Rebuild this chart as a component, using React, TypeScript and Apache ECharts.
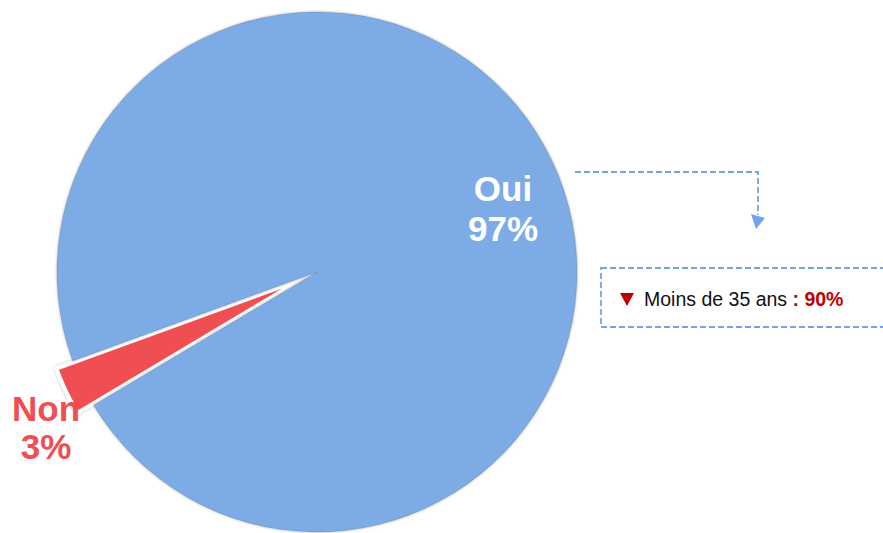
import React, { useEffect, useRef } from "react";
import * as echarts from "echarts";

const categories = ["Non", "Oui"];
const values = [3, 97];
const sliceColors = ["#EF4F53", "#7BABE5"];
const labelColors = ["#EF4F53", "#FFFFFF"];
const noteLabel = "Moins de 35 ans";
const noteValue = " : 90%";

export default function App() {
  const ref = useRef<HTMLDivElement>(null);
  useEffect(() => {
    if (!ref.current) return;
    const chart = echarts.init(ref.current, null, { renderer: "svg" });
    const labelPos = [
      { x: 46, y: 427, lh: 38 },
      { x: 503, y: 208, lh: 40 },
    ];
    const total = values.reduce((a, b) => a + b, 0);
    const dashColor = "#6FA5EC";
    const sliceLabels = categories.map((c, i) => ({
      type: "text",
      x: labelPos[i].x,
      y: labelPos[i].y,
      z: 10,
      style: {
        text: c + "\n" + Math.round((values[i] / total) * 100) + "%",
        fill: labelColors[i],
        fontFamily: "Liberation Sans",
        fontWeight: "bold",
        fontSize: 35,
        lineHeight: labelPos[i].lh,
        align: "center",
        verticalAlign: "middle",
      },
    }));
    chart.setOption({
      animation: false,
      backgroundColor: "#ffffff",
      series: [
        {
          type: "pie",
          center: [317, 272],
          radius: [0, 260],
          startAngle: 210.8,
          clockwise: true,
          selectedMode: "single",
          selectedOffset: 18,
          avoidLabelOverlap: false,
          silent: true,
          emphasis: { disabled: true },
          label: { show: false },
          labelLine: { show: false },
          data: categories.map((c, i) => ({
            name: c,
            value: values[i],
            selected: i === 0,
            itemStyle: {
              color: sliceColors[i],
              borderColor: i === 0 ? "#ffffff" : "rgba(0,0,0,0.12)",
              borderWidth: i === 0 ? 4 : 1,
              shadowBlur: 3,
              shadowColor: "rgba(0,0,0,0.3)",
            },
          })),
        },
      ],
      graphic: [
        ...sliceLabels,
        {
          type: "polyline",
          shape: { points: [[575, 172], [758, 172], [758, 215]] },
          style: { stroke: dashColor, lineWidth: 1.8, lineDash: [6, 3], fill: null },
        },
        {
          type: "polygon",
          shape: { points: [[751, 214], [765, 218], [756, 229]] },
          style: { fill: dashColor },
        },
        {
          type: "rect",
          shape: { x: 601, y: 268, width: 320, height: 59 },
          style: { stroke: dashColor, lineWidth: 1.8, lineDash: [6, 3], fill: null },
        },
        {
          type: "polygon",
          shape: { points: [[620, 293], [634, 293], [627, 306]] },
          style: { fill: "#C00000" },
        },
        {
          type: "text",
          x: 644,
          y: 299,
          style: {
            text: "{a|" + noteLabel + "}{b|" + noteValue + "}",
            verticalAlign: "middle",
            rich: {
              a: { fontFamily: "Liberation Sans", fontSize: 19.5, fill: "#111111" },
              b: { fontFamily: "Liberation Sans", fontSize: 19.5, fontWeight: "bold", fill: "#C00000" },
            },
          },
        },
      ],
    });
    return () => chart.dispose();
  }, []);
  return (
    <div
      ref={ref}
      style={{ position: "fixed", left: 0, top: 0, width: 883, height: 533 }}
    />
  );
}
